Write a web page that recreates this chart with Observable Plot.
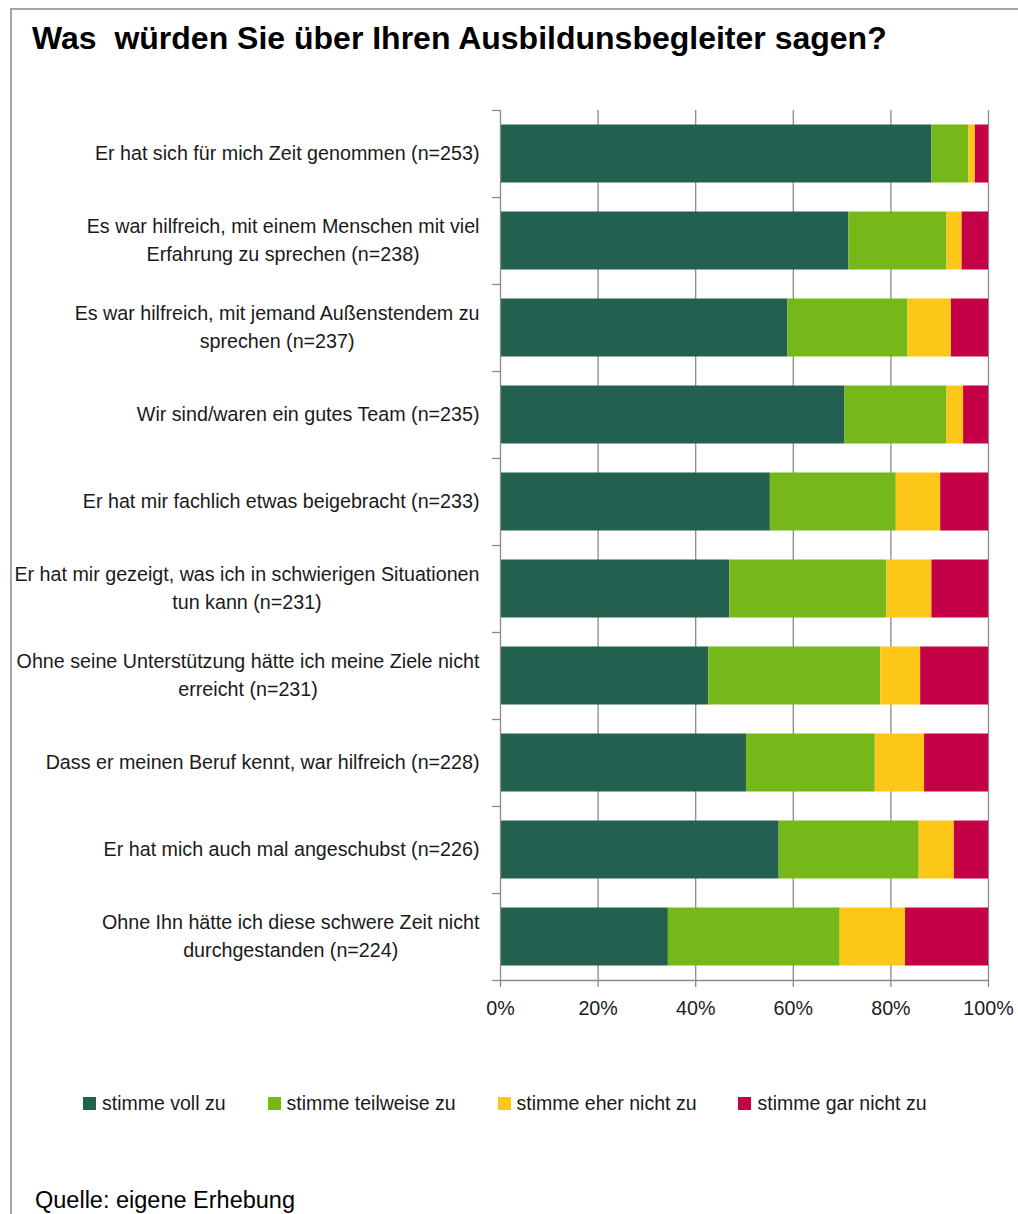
<!DOCTYPE html>
<html><head><meta charset="utf-8">
<script src="https://cdn.jsdelivr.net/npm/d3@7"></script>
<script src="https://cdn.jsdelivr.net/npm/@observablehq/plot@0.6"></script>
<style>
html,body{margin:0;padding:0;background:#fff;}
#page{position:relative;width:1018px;height:1214px;overflow:hidden;font-family:"Liberation Sans",Arial,sans-serif;color:#1a1a1a;}
#frame{position:absolute;left:10px;top:8px;width:1100px;height:1300px;border-top:2px solid #a6a6a6;border-left:2px solid #a6a6a6;}
#title{position:absolute;left:32px;top:22px;font-weight:bold;font-size:32px;line-height:32px;white-space:pre;color:#000;}
#chart{position:absolute;left:0;top:80px;}
#legend{position:absolute;left:83px;top:1092px;display:flex;gap:42px;font-size:19.5px;line-height:22px;}
.item{display:flex;align-items:center;gap:6px;}
.sw{width:13px;height:13px;display:inline-block;}
#source{position:absolute;left:35px;top:1187px;font-size:23.5px;line-height:27px;color:#000;}
</style></head>
<body><div id="page">
<div id="frame"></div>
<div id="title">Was  würden Sie über Ihren Ausbildunsbegleiter sagen?</div>
<div id="chart"></div>
<div id="legend"></div>
<div id="source">Quelle: eigene Erhebung</div>
</div>
<script>
const categories = [
  "Er hat sich für mich Zeit genommen (n=253)",
  "Es war hilfreich, mit einem Menschen mit viel\nErfahrung zu sprechen (n=238)",
  "Es war hilfreich, mit jemand Außenstendem zu\nsprechen (n=237)",
  "Wir sind/waren ein gutes Team (n=235)",
  "Er hat mir fachlich etwas beigebracht (n=233)",
  "Er hat mir gezeigt, was ich in schwierigen Situationen\ntun kann (n=231)",
  "Ohne seine Unterstützung hätte ich meine Ziele nicht\nerreicht (n=231)",
  "Dass er meinen Beruf kennt, war hilfreich (n=228)",
  "Er hat mich auch mal angeschubst (n=226)",
  "Ohne Ihn hätte ich diese schwere Zeit nicht\ndurchgestanden (n=224)"
];
const responses = ["stimme voll zu", "stimme teilweise zu", "stimme eher nicht zu", "stimme gar nicht zu"];
const colors = ["#236050", "#76B81A", "#FDC718", "#C40046"];
const stimmeVoll      = [88.4, 71.4, 58.9, 70.6, 55.3, 47.0, 42.7, 50.4, 57.1, 34.4];
const stimmeTeilweise = [ 7.6, 20.1, 24.6, 20.9, 25.8, 32.2, 35.2, 26.4, 28.7, 35.2];
const stimmeEherNicht = [ 1.3,  3.1,  8.9,  3.4,  9.1,  9.2,  8.2, 10.1,  7.2, 13.4];
const stimmeGarNicht  = [ 2.7,  5.4,  7.6,  5.1,  9.8, 11.6, 13.9, 13.1,  7.0, 17.0];
const xTicks = [0, 20, 40, 60, 80, 100];

const series = [stimmeVoll, stimmeTeilweise, stimmeEherNicht, stimmeGarNicht];
const rows = [];
categories.forEach((c, i) => {
  let acc = 0;
  series.forEach((vals, s) => {
    const v = vals[i];
    rows.push({i, i1: i + 1, response: responses[s], x1: acc, x2: acc + v});
    acc += v;
  });
});

const grey = "#8a8a8a";
const chart = Plot.plot({
  width: 1018, height: 960,
  marginLeft: 500, marginRight: 30, marginTop: 30, marginBottom: 60,
  style: {fontFamily: "'Liberation Sans', Arial, sans-serif", fontSize: "19.7px", color: "#1a1a1a", background: "transparent", overflow: "visible"},
  x: {domain: [0, 100], label: null},
  y: {domain: [0, 10], reverse: true, label: null},
  color: {domain: responses, range: colors},
  marks: [
    Plot.gridX({ticks: xTicks.slice(1), stroke: grey, strokeOpacity: 1, strokeWidth: 1.3}),
    Plot.rect(rows, {x1: "x1", x2: "x2", y1: "i", y2: "i1", fill: "response", insetTop: 14.5, insetBottom: 14.5}),
    Plot.ruleX([0], {stroke: grey, strokeWidth: 1.3}),
    Plot.ruleY([10], {stroke: grey, strokeWidth: 1.3}),
    Plot.axisX({ticks: xTicks, tickFormat: d => d + "%", tickSize: 7, tickPadding: 13, stroke: grey, strokeWidth: 1.3}),
    Plot.axisY({ticks: d3.range(0, 11), tickSize: 8, tickFormat: () => "", stroke: grey, strokeWidth: 1.3}),
    Plot.axisY({ticks: d3.range(10).map(i => i + 0.5), tickFormat: t => categories[Math.floor(t)], tickSize: 0, tickPadding: 21, lineHeight: 1.42, dy: -3})
  ]
});
document.getElementById("chart").appendChild(chart);

// center multi-line category labels relative to each other (block stays right-aligned)
chart.querySelectorAll('g[aria-label="y-axis tick label"] text').forEach(t => {
  const spans = t.querySelectorAll("tspan");
  if (spans.length < 2) return;
  let w = 0;
  spans.forEach(s => { w = Math.max(w, s.getComputedTextLength()); });
  const x0 = +t.getAttribute("x") || 0;
  t.setAttribute("text-anchor", "middle");
  spans.forEach(s => s.setAttribute("x", x0 - w / 2));
});

const legend = document.getElementById("legend");
responses.forEach((r, k) => {
  const item = document.createElement("div");
  item.className = "item";
  const sw = document.createElement("span");
  sw.className = "sw";
  sw.style.background = colors[k];
  const tx = document.createElement("span");
  tx.textContent = r;
  item.appendChild(sw); item.appendChild(tx);
  legend.appendChild(item);
});
</script>
</body></html>
